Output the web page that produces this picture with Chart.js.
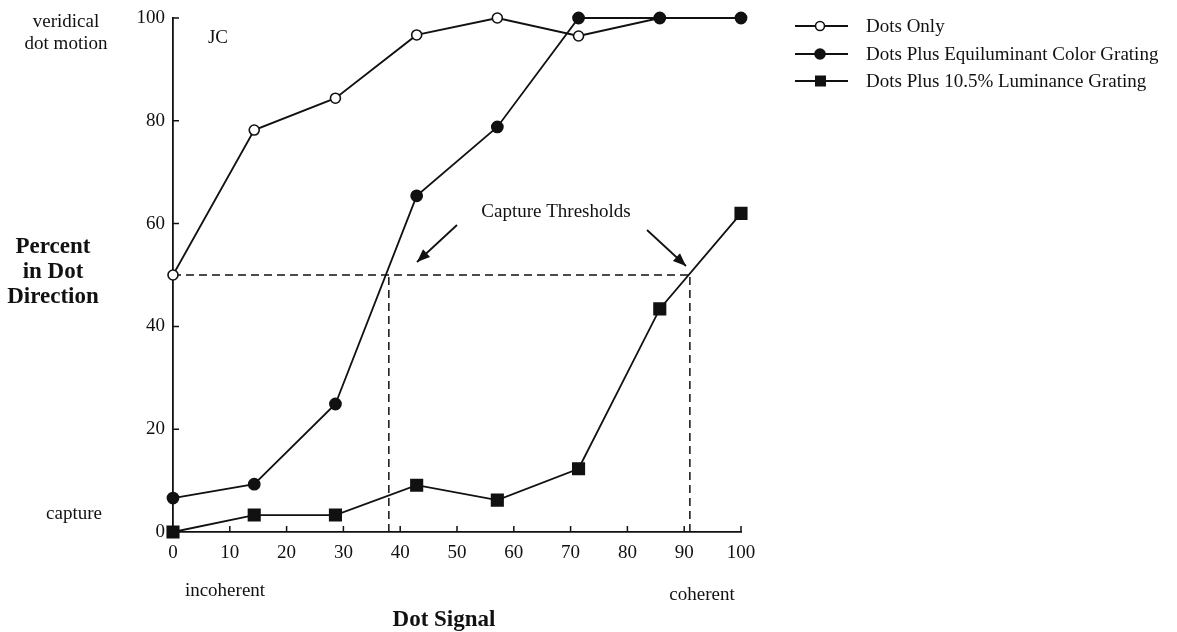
<!DOCTYPE html>
<html>
<head>
<meta charset="utf-8">
<script src="https://cdn.jsdelivr.net/npm/chart.js@4"></script>
<style>
  html, body { margin: 0; padding: 0; background: #fff; }
  #wrap { width: 1177px; height: 632px; }
</style>
</head>
<body>
<div id="wrap"><canvas id="dotchart"></canvas></div>
<script>
const dotSignal = [0, 14.3, 28.6, 42.9, 57.1, 71.4, 85.7, 100];
const dotsOnly = [50, 78.2, 84.4, 96.7, 100, 96.5, 100, 100];
const colorGrating = [6.6, 9.3, 24.9, 65.4, 78.8, 100, 100, 100];
const lumGrating = [0, 3.3, 3.3, 9.1, 6.2, 12.3, 43.4, 62];
const seriesNames = ["Dots Only", "Dots Plus Equiluminant Color Grating", "Dots Plus 10.5% Luminance Grating"];
const thresholdLevel = 50;
const thresholds = [38, 91];
const xTicks = [0, 10, 20, 30, 40, 50, 60, 70, 80, 90, 100];
const yTicks = [0, 20, 40, 60, 80, 100];

const serif = "'Liberation Serif', 'DejaVu Serif', serif";

function pts(xs, ys) {
  return xs.map((x, i) => ({ x: x, y: ys[i] }));
}

const dashed = {
  borderColor: "#111",
  borderWidth: 1.5,
  borderDash: [8, 5],
  pointRadius: 0,
  fill: false,
  clip: false,
  order: 3
};

const datasets = [
  Object.assign({ data: [{ x: 0, y: thresholdLevel }, { x: thresholds[1], y: thresholdLevel }] }, dashed),
  Object.assign({ data: [{ x: thresholds[0], y: 0 }, { x: thresholds[0], y: thresholdLevel }] }, dashed),
  Object.assign({ data: [{ x: thresholds[1], y: 0 }, { x: thresholds[1], y: thresholdLevel }] }, dashed),
  {
    label: seriesNames[0],
    data: pts(dotSignal, dotsOnly),
    borderColor: "#111",
    borderWidth: 1.8,
    pointStyle: "circle",
    pointRadius: 5,
    pointBackgroundColor: "#fff",
    pointBorderColor: "#111",
    pointBorderWidth: 1.6,
    fill: false,
    clip: false,
    order: 2
  },
  {
    label: seriesNames[1],
    data: pts(dotSignal, colorGrating),
    borderColor: "#111",
    borderWidth: 1.8,
    pointStyle: "circle",
    pointRadius: 5.5,
    pointBackgroundColor: "#111",
    pointBorderColor: "#111",
    fill: false,
    clip: false,
    order: 0
  },
  {
    label: seriesNames[2],
    data: pts(dotSignal, lumGrating),
    borderColor: "#111",
    borderWidth: 1.8,
    pointStyle: "rect",
    pointRadius: 8,
    pointBackgroundColor: "#111",
    pointBorderColor: "#111",
    fill: false,
    clip: false,
    order: 1
  }
];

// Beschriftung, Innenticks, Pfeile und Legende
const decorations = {
  id: "decorations",
  afterDraw(chart) {
    const ctx = chart.ctx;
    const xs = chart.scales.x;
    const ys = chart.scales.y;
    const area = chart.chartArea;
    ctx.save();
    ctx.strokeStyle = "#111";
    ctx.fillStyle = "#111";
    ctx.lineWidth = 1.5;

    // ticks pointing inward
    ctx.beginPath();
    xTicks.forEach(v => {
      const px = xs.getPixelForValue(v);
      ctx.moveTo(px, area.bottom);
      ctx.lineTo(px, area.bottom - 6);
    });
    yTicks.forEach(v => {
      const py = ys.getPixelForValue(v);
      ctx.moveTo(area.left, py);
      ctx.lineTo(area.left + 6, py);
    });
    ctx.stroke();

    ctx.textAlign = "center";
    ctx.textBaseline = "middle";
    ctx.font = "19px " + serif;
    ctx.fillText("veridical", 66, 22);
    ctx.fillText("dot motion", 66, 44);
    ctx.fillText("capture", 74, 514);
    ctx.fillText("incoherent", 225, 591);
    ctx.fillText("coherent", 702, 595);
    ctx.fillText("Capture Thresholds", 556, 212);
    ctx.fillText("JC", 218, 38);

    ctx.font = "bold 23px " + serif;
    ctx.fillText("Percent", 53, 247);
    ctx.fillText("in Dot", 53, 272);
    ctx.fillText("Direction", 53, 297);
    ctx.fillText("Dot Signal", 444, 620);

    // arrows
    function arrow(x1, y1, x2, y2) {
      ctx.beginPath();
      ctx.moveTo(x1, y1);
      ctx.lineTo(x2, y2);
      ctx.lineWidth = 1.8;
      ctx.stroke();
      const a = Math.atan2(y2 - y1, x2 - x1);
      const L = 14, w = 0.38;
      ctx.beginPath();
      ctx.moveTo(x2, y2);
      ctx.lineTo(x2 - L * Math.cos(a - w), y2 - L * Math.sin(a - w));
      ctx.lineTo(x2 - L * Math.cos(a + w), y2 - L * Math.sin(a + w));
      ctx.closePath();
      ctx.fill();
    }
    arrow(457, 225, 417, 262);
    arrow(647, 230, 686, 266);

    // legend
    const rows = [26, 54, 81];
    ctx.textAlign = "left";
    ctx.font = "19px " + serif;
    rows.forEach((ry, i) => {
      const ds = chart.data.datasets[3 + i];
      ctx.beginPath();
      ctx.lineWidth = 1.8;
      ctx.moveTo(795, ry);
      ctx.lineTo(848, ry);
      ctx.stroke();
      ctx.lineWidth = 1.6;
      ctx.fillStyle = ds.pointBackgroundColor;
      ctx.strokeStyle = ds.pointBorderColor;
      if (ds.pointStyle === "rect") {
        ctx.fillRect(815, ry - 5.5, 11, 11);
      } else {
        ctx.beginPath();
        ctx.arc(820, ry, ds.pointRadius - 0.5, 0, Math.PI * 2);
        ctx.fill();
        ctx.stroke();
      }
      ctx.fillStyle = "#111";
      ctx.strokeStyle = "#111";
      ctx.fillText(ds.label, 866, ry + 1);
    });
    ctx.restore();
  }
};

new Chart("dotchart", {
  type: "line",
  data: { datasets: datasets },
  options: {
    responsive: true,
    maintainAspectRatio: false,
    animation: false,
    layout: { autoPadding: false, padding: { left: 0, right: 436, top: 18, bottom: 0 } },
    plugins: {
      legend: { display: false },
      tooltip: { enabled: false }
    },
    elements: { line: { tension: 0 } },
    scales: {
      x: {
        type: "linear",
        min: 0,
        max: 100,
        afterFit: s => { s.height = 100; },
        afterBuildTicks: s => { s.ticks = xTicks.map(v => ({ value: v })); },
        grid: { display: false },
        border: { display: true, color: "#111", width: 1.8 },
        ticks: { color: "#111", font: { family: serif, size: 19 }, padding: 2, maxRotation: 0 }
      },
      y: {
        min: 0,
        max: 100,
        afterFit: s => { s.width = 173; },
        afterBuildTicks: s => { s.ticks = yTicks.map(v => ({ value: v })); },
        grid: { display: false },
        border: { display: true, color: "#111", width: 1.8 },
        ticks: { color: "#111", font: { family: serif, size: 19 }, padding: 0 }
      }
    }
  },
  plugins: [decorations]
});
</script>
</body>
</html>
